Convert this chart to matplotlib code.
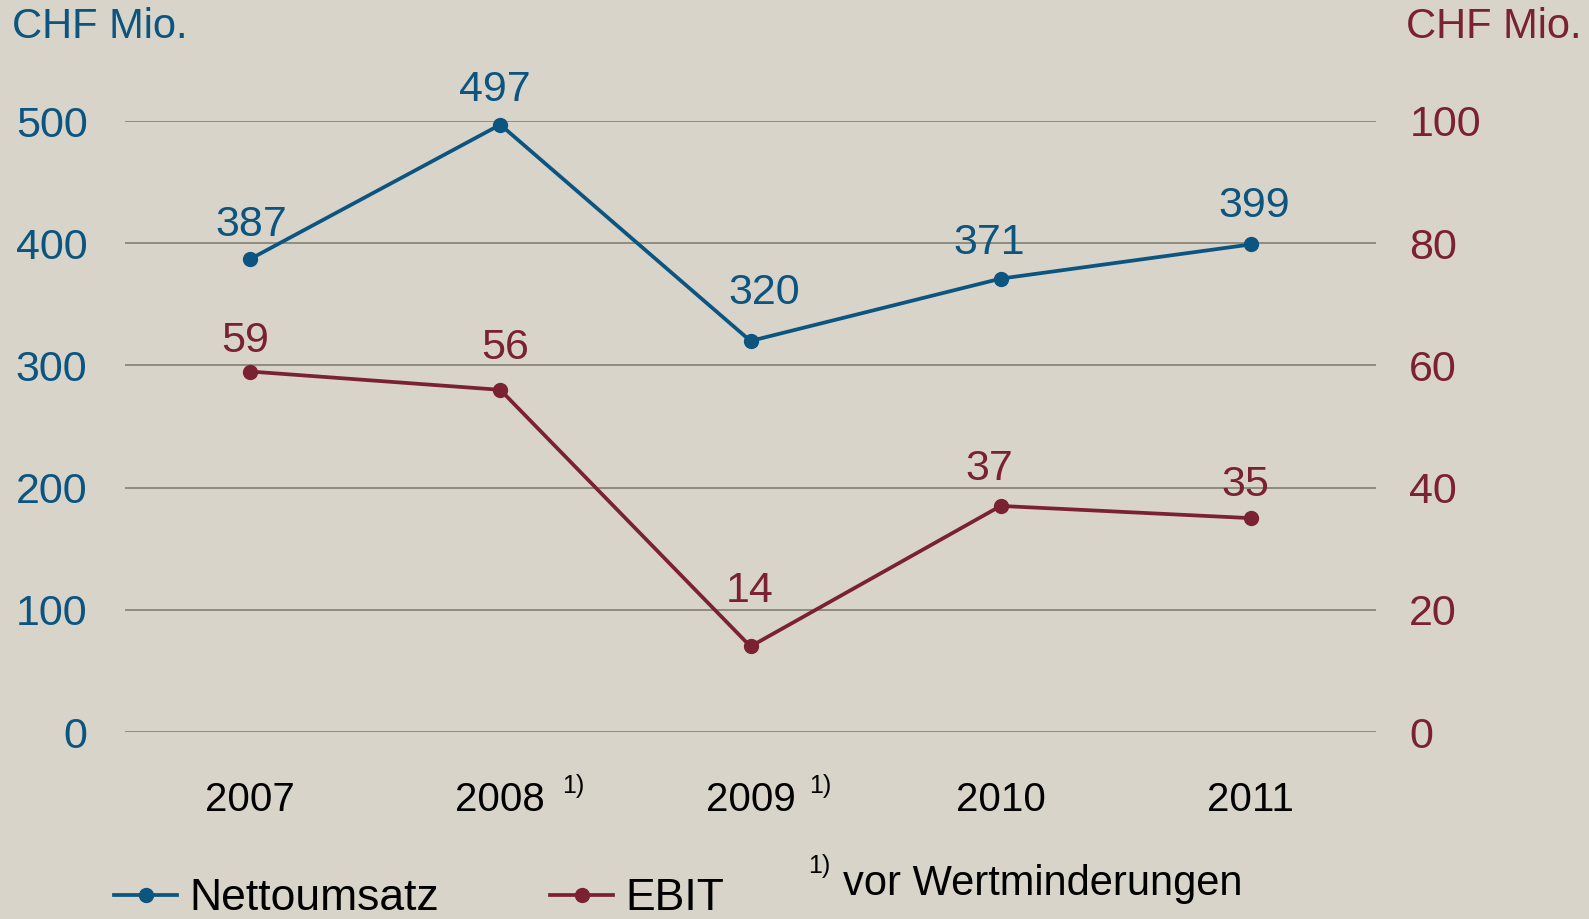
import matplotlib.pyplot as plt
from matplotlib.lines import Line2D
from matplotlib.transforms import blended_transform_factory

plt.rcParams['font.family'] = ['Liberation Sans', 'DejaVu Sans']

years = ["2007", "2008", "2009", "2010", "2011"]
footnoted = [False, True, True, False, False]
nettoumsatz = [387, 497, 320, 371, 399]
ebit = [59, 56, 14, 37, 35]
left_ticks = [0, 100, 200, 300, 400, 500]
right_ticks = [0, 20, 40, 60, 80, 100]

BLUE = "#0b5580"
RED = "#7b2232"
BG = "#d8d4c9"
GRID = "#8e8c80"
PX = 72 / 100  # pixel -> points

# label offsets in pixels (dx, dy above the point)
blue_off = [(1, 34), (-5, 35), (14, 48), (-11, 36), (3, 38)]
red_off = [(-5, 31), (5, 42), (-1, 55), (-11, 37), (-6, 33)]

fig = plt.figure(figsize=(15.89, 9.19), dpi=100, facecolor=BG)
ax = fig.add_axes([125 / 1589, 1 - 732 / 919, (1376 - 125) / 1589, (732 - 121) / 919])
ax.set_facecolor(BG)
ax2 = ax.twinx()

x = list(range(len(years)))

ax.set_xlim(-0.5, len(years) - 0.5)
ax.set_ylim(0, 500)
ax2.set_ylim(0, 100)

ax.plot(x, nettoumsatz, color=BLUE, lw=2.7, marker="o", ms=10, clip_on=False, zorder=5)
ax2.plot(x, ebit, color=RED, lw=2.7, marker="o", ms=10, clip_on=False, zorder=5)

for i, v in enumerate(nettoumsatz):
    dx, dy = blue_off[i]
    ax.annotate(str(v), (i, v), xytext=(dx * PX, dy * PX), textcoords="offset points",
                ha="center", va="center", color=BLUE, fontsize=31)
for i, v in enumerate(ebit):
    dx, dy = red_off[i]
    ax2.annotate(str(v), (i, v), xytext=(dx * PX, dy * PX), textcoords="offset points",
                 ha="center", va="center", color=RED, fontsize=31)

ax.set_yticks(left_ticks)
ax.set_yticklabels([str(t) for t in left_ticks])
ax2.set_yticks(right_ticks)
ax2.set_yticklabels([str(t) for t in right_ticks])
ax.set_xticks(x)
ax.set_xticklabels(years)

ax.tick_params(axis="y", length=0, pad=27, labelsize=31, labelcolor=BLUE)
ax2.tick_params(axis="y", length=0, pad=24, labelsize=31, labelcolor=RED)
ax.tick_params(axis="x", length=0, pad=35, labelsize=29, labelcolor="black")

ax.grid(axis="y", color=GRID, lw=1.4)
ax.grid(axis="x", visible=False)
ax.set_axisbelow(True)
for a in (ax, ax2):
    for s in a.spines.values():
        s.set_visible(False)

# footnote markers next to years
trans = blended_transform_factory(ax.transData, ax.transAxes)
sup_dx = {1: 62, 2: 59}
for i, f in enumerate(footnoted):
    if f:
        ax.annotate("1)", (i, 0), xycoords=trans, xytext=(sup_dx[i] * PX, -54 * PX),
                    textcoords="offset points", ha="left", va="center", fontsize=18,
                    color="black", annotation_clip=False)

fig.text(12 / 1589, 1 - 27 / 919, "CHF Mio.", color=BLUE, fontsize=30, ha="left", va="center")
fig.text(1581 / 1589, 1 - 27 / 919, "CHF Mio.", color=RED, fontsize=30, ha="right", va="center")

fig.text(808 / 1589, 1 - 866 / 919, "1)", fontsize=18, ha="left", va="center")
fig.text(843 / 1589, 1 - 884 / 919, "vor Wertminderungen", fontsize=30, ha="left", va="center")

handles = [Line2D([], [], color=BLUE, lw=2.7, marker="o", ms=10),
           Line2D([], [], color=RED, lw=2.7, marker="o", ms=10)]
fig.legend(handles, ["Nettoumsatz", "EBIT"], loc="center left",
           bbox_to_anchor=(114 / 1589, 1 - 899 / 919), ncol=2, frameon=False,
           fontsize=32, handlelength=1.42, handletextpad=0.27, columnspacing=2.5,
           borderpad=0, borderaxespad=0)

fig.savefig("out.png", dpi=100, facecolor=BG)
